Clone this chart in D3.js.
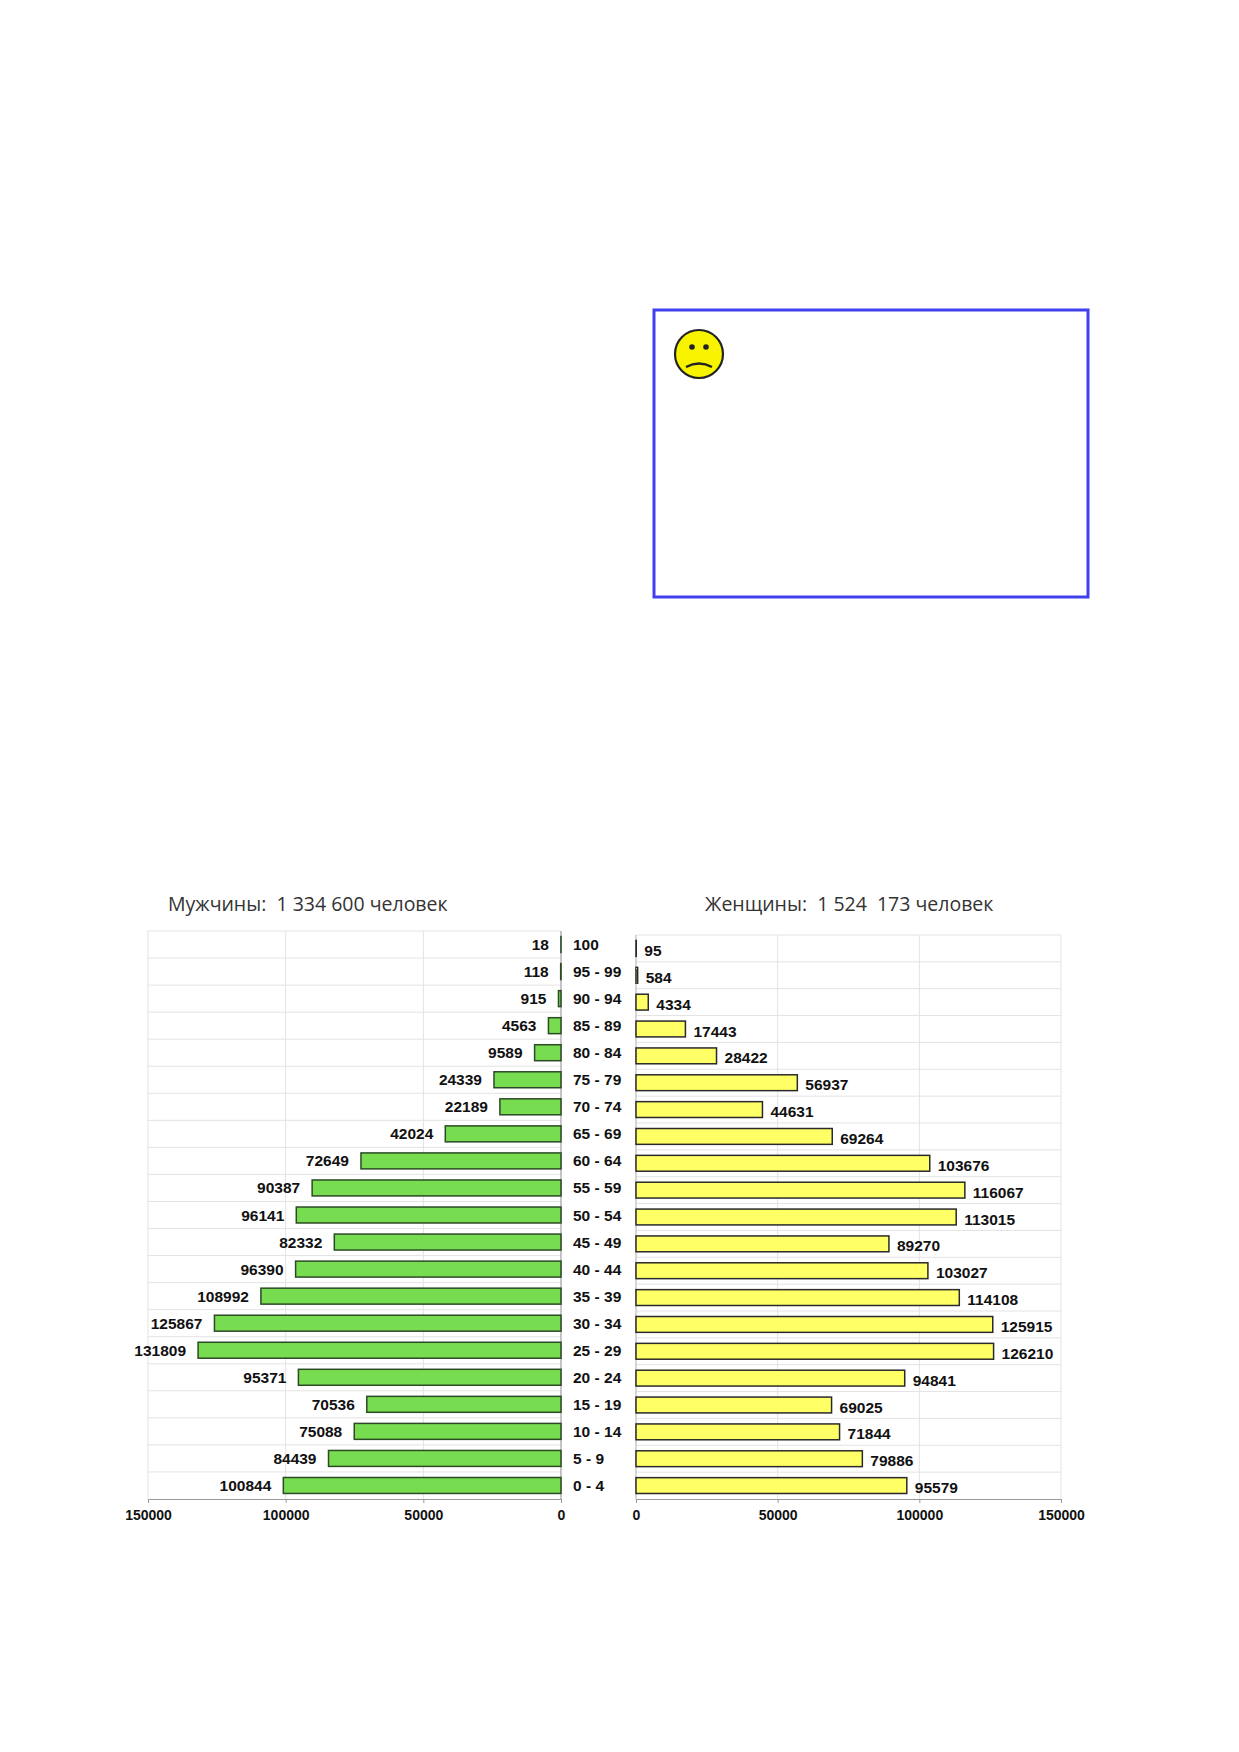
<!DOCTYPE html>
<html>
<head>
<meta charset="utf-8">
<script src="https://cdn.jsdelivr.net/npm/d3@7"></script>
<style>
  body { margin: 0; background: #fff; }
  svg { display: block; }
  .title { font-family: "Open Sans", "Noto Sans", sans-serif; font-size: 19.5px; fill: #333; white-space: pre; }
  .val, .age, .axis text { font-family: "Liberation Sans", Arial, sans-serif; font-weight: bold; fill: #111; }
</style>
</head>
<body>
<div id="chart"></div>
<script>
// Возрастные группы (сверху вниз)
const AGES = ["100", "95 - 99", "90 - 94", "85 - 89", "80 - 84", "75 - 79", "70 - 74",
  "65 - 69", "60 - 64", "55 - 59", "50 - 54", "45 - 49", "40 - 44", "35 - 39",
  "30 - 34", "25 - 29", "20 - 24", "15 - 19", "10 - 14", "5 - 9", "0 - 4"];

const MALE = [18, 118, 915, 4563, 9589, 24339, 22189, 42024, 72649, 90387, 96141,
  82332, 96390, 108992, 125867, 131809, 95371, 70536, 75088, 84439, 100844];

const FEMALE = [95, 584, 4334, 17443, 28422, 56937, 44631, 69264, 103676, 116067, 113015,
  89270, 103027, 114108, 125915, 126210, 94841, 69025, 71844, 79886, 95579];

const TICKS = [0, 50000, 100000, 150000];
const MALE_TITLE = "Мужчины:  1 334 600 человек";
const FEMALE_TITLE = "Женщины:  1 524  173 человек";

const W = 1239, H = 1752;
const svg = d3.select('#chart').append('svg')
  .attr('width', W)
  .attr('height', H);

// Рамка с грустным смайликом
svg.append('rect')
  .attr('x', 654).attr('y', 310).attr('width', 434).attr('height', 287)
  .attr('fill', 'none').attr('stroke', '#4040ee').attr('stroke-width', 3);

const face = svg.append('g').attr('transform', 'translate(699,354)');
face.append('circle').attr('r', 24).attr('fill', '#f8f400').attr('stroke', '#222').attr('stroke-width', 2.2);
face.append('circle').attr('cx', -7).attr('cy', -7).attr('r', 2.8).attr('fill', '#222');
face.append('circle').attr('cx', 7).attr('cy', -7).attr('r', 2.8).attr('fill', '#222');
face.append('path').attr('d', 'M-13,13 Q0,6 13,13')
  .attr('fill', 'none').attr('stroke', '#222').attr('stroke-width', 2.4);

// Заголовки
svg.append('text').attr('class', 'title').attr('xml:space', 'preserve')
  .attr('x', 168).attr('y', 911).text(MALE_TITLE);
svg.append('text').attr('class', 'title').attr('xml:space', 'preserve')
  .attr('x', 705).attr('y', 911).text(FEMALE_TITLE);

// Шкалы
const xMale = d3.scaleLinear().domain([0, 150000]).range([561, 148]);
const xFemale = d3.scaleLinear().domain([0, 150000]).range([636, 1061]);
const yMale = d3.scaleBand().domain(AGES).range([931, 1499]).paddingInner(0.41).paddingOuter(0.205);
const yFemale = d3.scaleBand().domain(AGES).range([935, 1499]).paddingInner(0.41).paddingOuter(0.205);

function drawSide(x, y, values, opts) {
  const g = svg.append('g');
  const [x0, x1] = x.range();
  const left = Math.min(x0, x1), right = Math.max(x0, x1);
  const top = y.range()[0], bottom = y.range()[1];
  const step = y.step();

  // Сетка
  g.selectAll('.vgrid').data(TICKS).enter().append('line')
    .attr('x1', d => x(d)).attr('x2', d => x(d))
    .attr('y1', top).attr('y2', bottom)
    .attr('stroke', '#e3e3e3').attr('stroke-width', 1);
  g.selectAll('.hgrid').data(d3.range(AGES.length)).enter().append('line')
    .attr('x1', left).attr('x2', right)
    .attr('y1', i => top + i * step).attr('y2', i => top + i * step)
    .attr('stroke', '#e3e3e3').attr('stroke-width', 1);

  // Нулевая ось
  g.append('line')
    .attr('x1', x(0)).attr('x2', x(0)).attr('y1', top).attr('y2', bottom)
    .attr('stroke', opts.zeroColor).attr('stroke-width', 1);

  // Столбцы
  g.selectAll('.bar').data(values).enter().append('rect')
    .attr('x', d => Math.min(x(0), x(d)))
    .attr('y', (d, i) => y(AGES[i]))
    .attr('width', d => Math.abs(x(d) - x(0)))
    .attr('height', y.bandwidth())
    .attr('fill', opts.fill)
    .attr('stroke', opts.stroke)
    .attr('stroke-width', 1.5);

  // Подписи значений
  g.selectAll('.val').data(values).enter().append('text')
    .attr('class', 'val')
    .attr('x', d => x(d) + opts.labelDx)
    .attr('y', (d, i) => y(AGES[i]) + y.bandwidth() / 2 + opts.labelDy)
    .attr('text-anchor', opts.anchor)
    .attr('dominant-baseline', 'central')
    .style('font-size', '15.5px')
    .text(d => d);

  // Ось X
  const axis = g.append('g')
    .attr('class', 'axis')
    .attr('transform', `translate(0,${bottom})`)
    .call(d3.axisBottom(x).tickValues(TICKS).tickFormat(d3.format('d')).tickSize(4).tickPadding(7));
  axis.select('.domain').attr('stroke', '#999');
  axis.selectAll('.tick line').attr('stroke', '#999');
  axis.selectAll('.tick text').style('font-size', '14px');
}

drawSide(xMale, yMale, MALE, {
  fill: '#77dc50', stroke: '#2b4a25', zeroColor: '#999', labelDx: -12, labelDy: 0, anchor: 'end'
});
drawSide(xFemale, yFemale, FEMALE, {
  fill: '#ffff66', stroke: '#2a2a2a', zeroColor: '#bbb', labelDx: 8, labelDy: 2, anchor: 'start'
});

// Возрастные группы между половинами
svg.append('g').selectAll('.age').data(AGES).enter().append('text')
  .attr('class', 'age')
  .attr('x', 573)
  .attr('y', d => yMale(d) + yMale.bandwidth() / 2)
  .attr('dominant-baseline', 'central')
  .style('font-size', '15.5px')
  .text(d => d);
</script>
</body>
</html>
